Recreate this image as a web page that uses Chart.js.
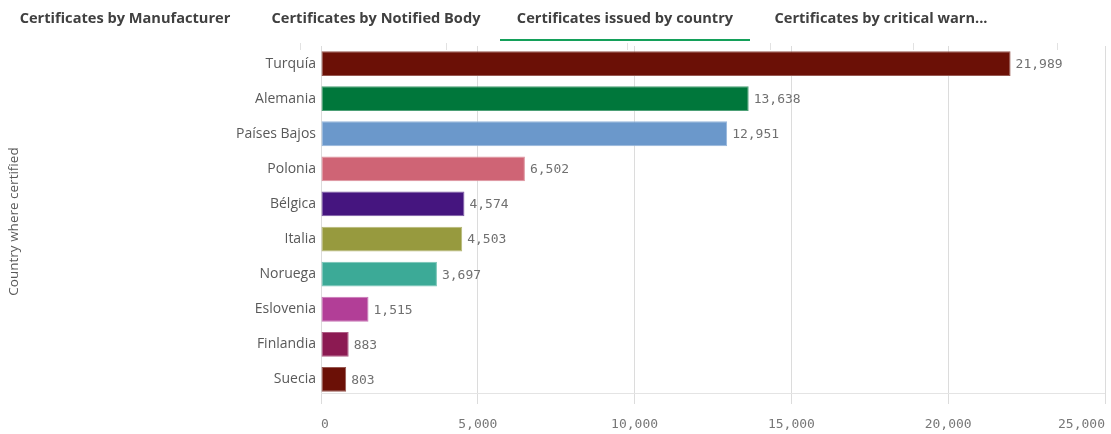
<!DOCTYPE html>
<html>
<head>
<meta charset="utf-8">
<script src="https://cdn.jsdelivr.net/npm/chart.js@4/dist/chart.umd.min.js"></script>
<style>
  html, body { margin: 0; padding: 0; background: #fff; }
  #wrap { position: relative; width: 1111px; height: 434px; overflow: hidden; }
  #grafico { position: absolute; left: 0; top: 0; }
  .tab {
    position: absolute; top: 7px; width: 250px; text-align: center;
    font-family: "Open Sans", sans-serif; font-weight: bold; font-size: 14.6px;
    color: #404040; white-space: nowrap;
  }
  .tab.activa { border-bottom: 2px solid #14a05a; height: 32px; }
  .sep { position: absolute; top: 43px; width: 1px; height: 7px; background: #e2e2e2; }
</style>
</head>
<body>
<div id="wrap">
  <canvas id="grafico" width="1111" height="434"></canvas>
  <div class="tab" style="left:0px">Certificates by Manufacturer</div>
  <div class="tab" style="left:251px">Certificates by Notified Body</div>
  <div class="tab activa" style="left:500px">Certificates issued by country</div>
  <div class="tab" style="left:756px">Certificates by critical warn...</div>
  <div class="sep" style="left:300px"></div>
  <div class="sep" style="left:446px"></div>
  <div class="sep" style="left:627px"></div>
  <div class="sep" style="left:770px"></div>
  <div class="sep" style="left:913px"></div>
  <div class="sep" style="left:1057px"></div>
</div>
<script>
// Certificados por país
const paises = ['Turquía', 'Alemania', 'Países Bajos', 'Polonia', 'Bélgica', 'Italia', 'Noruega', 'Eslovenia', 'Finlandia', 'Suecia'];
const certificados = [21989, 13638, 12951, 6502, 4574, 4503, 3697, 1515, 883, 803];
const colores = ['#6b1006', '#00773b', '#6b98cb', '#cf6475', '#45157f', '#979a3e', '#3caa97', '#b23e97', '#8c1a52', '#6b1006'];
const ticksX = [0, 5000, 10000, 15000, 20000, 25000];

// borde un poco más claro que el relleno
function aclarar(hex, f) {
  const n = parseInt(hex.slice(1), 16);
  const c = [(n >> 16) & 255, (n >> 8) & 255, n & 255].map(v => Math.round(v + (255 - v) * f));
  return `rgb(${c[0]},${c[1]},${c[2]})`;
}

const fmt = v => v.toLocaleString('en-US');

// etiquetas de valor a la derecha de cada barra
const etiquetasValor = {
  id: 'etiquetasValor',
  afterDatasetsDraw(chart) {
    const ctx = chart.ctx;
    const meta = chart.getDatasetMeta(0);
    ctx.save();
    ctx.font = '13px "DejaVu Sans Mono", monospace';
    ctx.fillStyle = '#707070';
    ctx.textAlign = 'left';
    ctx.textBaseline = 'middle';
    meta.data.forEach((bar, i) => {
      ctx.fillText(fmt(certificados[i]), bar.x + 5, bar.y + 1);
    });
    ctx.restore();
  }
};

// línea inferior del área de barras
const lineaBase = {
  id: 'lineaBase',
  beforeDatasetsDraw(chart) {
    const { ctx, chartArea } = chart;
    ctx.save();
    ctx.strokeStyle = '#e4e4e4';
    ctx.lineWidth = 1;
    ctx.beginPath();
    ctx.moveTo(chartArea.left, chartArea.bottom - 3.5);
    ctx.lineTo(chartArea.right, chartArea.bottom - 3.5);
    ctx.stroke();
    ctx.restore();
  }
};

new Chart(document.getElementById('grafico'), {
  type: 'bar',
  data: {
    labels: paises,
    datasets: [{
      data: certificados,
      backgroundColor: colores,
      borderColor: colores.map(c => aclarar(c, 0.3)),
      borderWidth: 1,
      borderSkipped: false,
      barPercentage: 0.82,
      categoryPercentage: 0.86
    }]
  },
  options: {
    indexAxis: 'y',
    responsive: false,
    animation: false,
    layout: { padding: { top: 46, right: 6, left: 0, bottom: 0 } },
    plugins: { legend: { display: false }, tooltip: { enabled: false } },
    scales: {
      x: {
        min: 0,
        max: 25000,
        afterBuildTicks(scale) { scale.ticks = ticksX.map(v => ({ value: v })); },
        afterFit(scale) {
          scale.height = 37;
          scale.paddingLeft = 0;
          scale.paddingRight = 0;
        },
        border: { display: false },
        grid: { color: '#dcdcdc', tickLength: 7, lineWidth: 1 },
        ticks: {
          align: 'inner',
          padding: 13,
          color: '#777',
          font: { family: '"DejaVu Sans Mono", monospace', size: 13 },
          callback: v => fmt(v)
        }
      },
      y: {
        afterFit(scale) { scale.width = 321; },
        border: { display: false },
        grid: { display: false, drawTicks: false },
        ticks: {
          padding: 5,
          color: '#595959',
          font: { family: '"Open Sans", sans-serif', size: 14 }
        },
        title: {
          display: true,
          text: 'Country where certified',
          color: '#595959',
          font: { family: '"Open Sans", sans-serif', size: 13.5 },
          padding: { top: 6, bottom: 0 }
        }
      }
    }
  },
  plugins: [lineaBase, etiquetasValor]
});
</script>
</body>
</html>
